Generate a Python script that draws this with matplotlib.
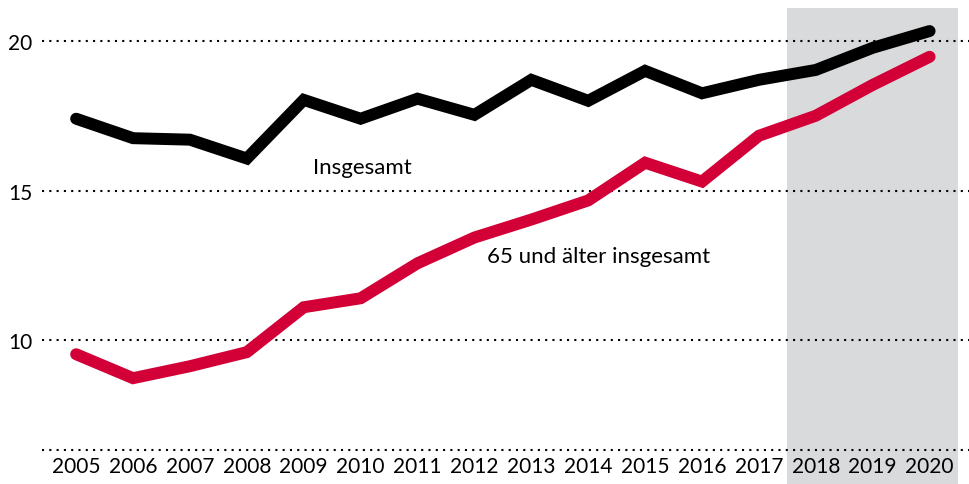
import matplotlib
matplotlib.use("Agg")
import matplotlib.pyplot as plt

years = list(range(2005, 2021))
insgesamt = [17.4, 16.75, 16.7, 16.07, 18.03, 17.4, 18.07, 17.53, 18.7, 18.0,
             19.0, 18.25, 18.7, 19.03, 19.77, 20.33]
ab65 = [9.53, 8.73, 9.13, 9.6, 11.1, 11.4, 12.57, 13.43, 14.03, 14.67,
        15.93, 15.3, 16.83, 17.5, 18.53, 19.47]
yticks = [10, 15, 20]
shade_years = (2017.5, 2020.5)

RED = "#d20037"
SHADE = "#d9dadc"
INK = "#000000"
DOTS = (0, (1, 2.5))

plt.rcParams["font.family"] = ["Lato", "DejaVu Sans"]

fig = plt.figure(figsize=(9.7, 4.85), dpi=100)
ax = fig.add_axes([42 / 970, 34 / 485, 928 / 970, 442 / 485])

ymin = 6.33
ax.set_xlim(2004.40, 2020.71)
ax.set_ylim(ymin, 21.1)

ax.axvspan(*shade_years, ymin=-0.08, ymax=1, color=SHADE, lw=0, zorder=0, clip_on=False)

for v in yticks + [ymin]:
    ax.axhline(v, color=INK, lw=1.5, ls=DOTS, zorder=1, clip_on=False)

ax.plot(years, insgesamt, color=INK, lw=8.6, solid_capstyle="round",
        solid_joinstyle="miter", zorder=3)
ax.plot(years, ab65, color=RED, lw=8.6, solid_capstyle="round",
        solid_joinstyle="miter", zorder=3)

ax.text(2009.17, 15.8, "Insgesamt", fontsize=16, color=INK, va="center", ha="left")
ax.text(2012.22, 12.8, "65 und älter insgesamt", fontsize=16, color=INK, va="center", ha="left")

for s in ax.spines.values():
    s.set_visible(False)

ax.set_xticks(years)
ax.set_xticklabels([str(y) for y in years])
ax.set_yticks(yticks)
ax.tick_params(axis="both", length=0, labelsize=15, colors=INK)
ax.tick_params(axis="x", pad=4)
ax.tick_params(axis="y", pad=7)

fig.savefig("out.png", dpi=100, facecolor="white")
